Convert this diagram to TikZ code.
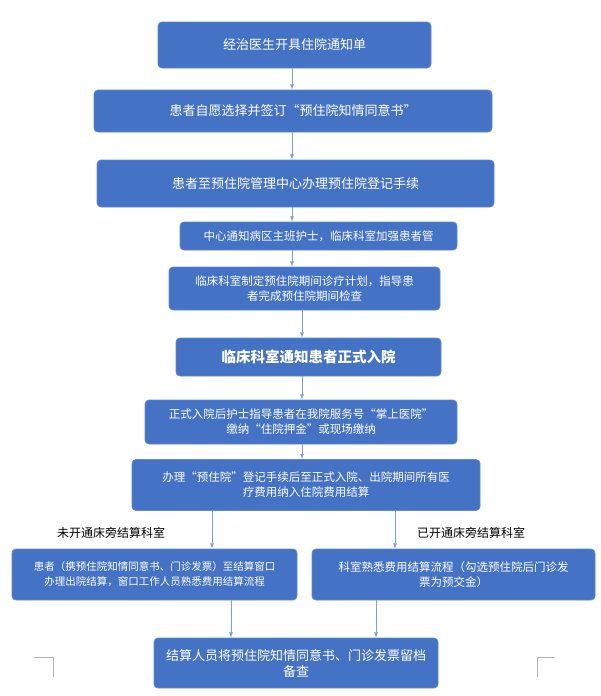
\documentclass[tikz,border=0pt]{standalone}
\usepackage{fontspec}
\setmainfont{Noto Sans CJK SC}
\usetikzlibrary{positioning}
\definecolor{boxblue}{HTML}{4472C4}
\definecolor{boxline}{HTML}{5D8AD8}
\definecolor{arrowc}{HTML}{7F9FCF}
\begin{document}
\begin{tikzpicture}
		[x=1pt,y=-1pt,
		block/.style ={rectangle, draw=boxline, thick, fill=boxblue, text=white, align=center, rounded corners=4pt, inner sep=1pt, font=\fontsize{13}{16}\selectfont},
		small/.style ={block, font=\fontsize{11.5}{15}\selectfont},
		line/.style ={draw=arrowc, thick, ->, >=latex},
		lbl/.style ={font=\fontsize{12}{14}\selectfont},
		]
		\useasboundingbox (0,0) rectangle (600,696);

		\draw (294.5,45) node[block, minimum width=273, minimum height=46] (B1) {经治医生开具住院通知单};
		\draw (293,111) node[block, minimum width=398, minimum height=42] (B2) {患者自愿选择并签订“预住院知情同意书”};
		\draw (295.5,183.5) node[block, minimum width=397, minimum height=47] (B3) {患者至预住院管理中心办理预住院登记手续};
		\draw (318.5,236) node[small, minimum width=277, minimum height=28] (B4) {中心通知病区主班护士，临床科室加强患者管};
		\draw (304.5,288.5) node[small, minimum width=271, minimum height=43] (B5) {临床科室制定预住院期间诊疗计划，指导患\\者完成预住院期间检查};
		\draw (308.5,357) node[block, minimum width=265, minimum height=38, font=\fontsize{14.5}{16}\selectfont\bfseries] (B6) {临床科室通知患者正式入院};
		\draw (301,422) node[small, minimum width=312, minimum height=44] (B7) {正式入院后护士指导患者在我院服务号“掌上医院”\\缴纳“住院押金”或现场缴纳};
		\draw (306,485) node[small, minimum width=348, minimum height=51] (B8) {办理“预住院”登记手续后至正式入院、出院期间所有医\\疗费用纳入住院费用结算};
		\draw (154.5,574.5) node[small, minimum width=285, minimum height=51, font=\fontsize{10.5}{15}\selectfont] (L1) {患者（携预住院知情同意书、门诊发票）至结算窗口\\办理出院结算，窗口工作人员熟悉费用结算流程};
		\draw (453.5,574.5) node[small, minimum width=283, minimum height=51] (R1) {科室熟悉费用结算流程（勾选预住院后门诊发\\票为预交金）};
		\draw (296,663) node[block, minimum width=284, minimum height=50] (B9) {结算人员将预住院知情同意书、门诊发票留档\\备查};

		\draw (111,533) node[lbl] (NL) {未开通床旁结算科室};
		\draw (471,533) node[lbl] (NR) {已开通床旁结算科室};

		\coordinate (M1) at (292,0);
		\coordinate (M2) at (302,0);
		\coordinate (XL1) at (212,0);
		\coordinate (XR1) at (395,0);
		\coordinate (XL2) at (231,0);
		\coordinate (XR2) at (376,0);

		\path[line] (B1.south -| M1) -- (B2.north -| M1);
		\path[line] (B2.south -| M1) -- (B3.north -| M1);
		\path[line] (B3.south -| M1) -- (B4.north -| M1);
		\path[line] (B4.south -| M1) -- (B5.north -| M1);
		\path[line] (B5.south -| M2) -- (B6.north -| M2);
		\path[line] (B6.south -| M2) -- (B7.north -| M2);
		\path[line] (B7.south -| M2) -- (B8.north -| M2);
		\path[line] (B8.south -| XL1) -- (L1.north -| XL1);
		\path[line] (B8.south -| XR1) -- (R1.north -| XR1);
		\path[line] (L1.south -| XL2) -- (B9.north -| XL2);
		\path[line] (R1.south -| XR2) -- (B9.north -| XR2);

		% page corner marks
		\draw[gray!60] (34,657) -- (53,657) -- (53,677);
		\draw[gray!60] (537,677) -- (537,657) -- (555,657);
	\end{tikzpicture}
\end{document}
